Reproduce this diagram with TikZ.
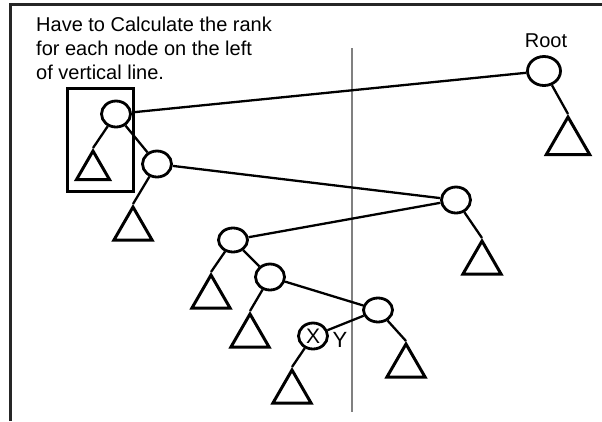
\documentclass[tikz,border=0pt]{standalone}
\usepackage{fontspec}
\setmainfont{Liberation Sans}
\usetikzlibrary{shapes.geometric}
\begin{document}
\begin{tikzpicture}[x=1pt,y=-1pt,
  treenode/.style={ellipse,draw,line width=2.8pt,minimum width=29pt,minimum height=26pt,inner sep=0pt},
  subtree/.style={regular polygon,regular polygon sides=3,draw,line width=3pt,minimum size=44pt,inner sep=0pt},
  link/.style={line width=2.3pt},
  lbl/.style={font=\fontsize{20}{24}\selectfont}]
  \useasboundingbox (0,0) rectangle (602,421);
  % frame, top and left only
  \draw[line width=3pt,black!85] (10,421)--(10,4)--(602,4);
  \node[lbl,align=left,anchor=north west,inner sep=0pt] (note) at (36,17) {Have to Calculate the rank\\for each node on the left\\of vertical line.};
  \draw[gray,line width=1.3pt] (352,48)--(352,412);
  % tree nodes
  \node[treenode,minimum width=33pt,minimum height=29pt] (root) at (544,71) {};
  \node[lbl] (rootlab) at (546,41) {Root};
  \node[treenode] (a) at (116,114) {};
  \node[treenode] (b) at (157,164) {};
  \node[treenode] (c) at (456,200) {};
  \node[treenode,minimum height=24pt] (d) at (233,240) {};
  \node[treenode] (e) at (270,277) {};
  \node[treenode,minimum height=24pt] (f) at (378,310) {};
  \node[treenode,font=\fontsize{21}{24}\selectfont] (x) at (313,336) {X};
  \node[font=\fontsize{22}{24}\selectfont] (ylab) at (340,340) {Y};
  % subtrees
  \node[subtree,minimum size=50pt] (tri-root) at (568,142) {};
  \node[subtree,minimum size=38pt] (tri-a) at (93,170) {};
  \node[subtree] (tri-b) at (133,229) {};
  \node[subtree] (tri-c) at (482,263) {};
  \node[subtree] (tri-d) at (211,297) {};
  \node[subtree] (tri-e) at (250,336) {};
  \node[subtree] (tri-f) at (406,366) {};
  \node[subtree] (tri-x) at (292,392) {};
  % box round the first node
  \node[draw,line width=2.6pt,minimum width=66pt,minimum height=103pt,inner sep=0pt] (focus) at (100.5,140) {};
  % links
  \draw[link] (a)--(root);
  \draw[link] (a)--(b);
  \draw[link] (b)--(c);
  \draw[link] (d)--(c);
  \draw[link] (d)--(e);
  \draw[link] (e)--(f);
  \draw[link] (x)--(f);
  \draw[link] (root)--(tri-root.corner 1);
  \draw[link] (a)--(tri-a.corner 1);
  \draw[link] (b)--(tri-b.corner 1);
  \draw[link] (c)--(tri-c.corner 1);
  \draw[link] (d)--(tri-d.corner 1);
  \draw[link] (e)--(tri-e.corner 1);
  \draw[link] (f)--(tri-f.corner 1);
  \draw[link] (x)--(tri-x.corner 1);
\end{tikzpicture}
\end{document}
